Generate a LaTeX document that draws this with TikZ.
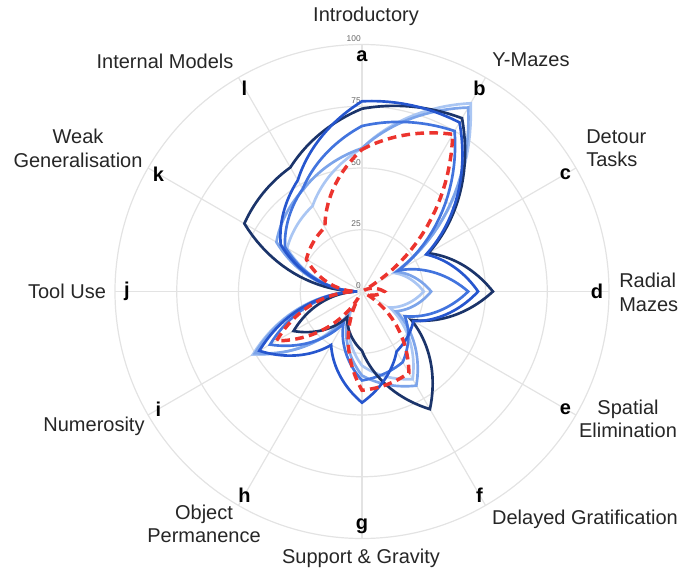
\documentclass[tikz,border=0pt]{standalone}
\usepackage{fontspec}
\setmainfont{Liberation Sans}
\definecolor{navyline}{RGB}{27,52,106}
\definecolor{royalline}{RGB}{38,86,206}
\definecolor{midline}{RGB}{66,116,222}
\definecolor{lightline}{RGB}{124,164,234}
\definecolor{paleline}{RGB}{170,198,243}
\definecolor{redline}{RGB}{236,52,46}
\def\ringscale{2.47}
\newcommand{\petals}[2]{%
  \def\vals{#2}%
  \draw[#1] (90:{\ringscale*\vals[0]})
    \foreach \i [evaluate=\i as \j using int(\i+1)] in {0,...,10}{
      -- plot[variable=\s, samples at={1,...,20}]
        ({90-30*(\i+\s/20)}:{\ringscale*(\vals[\i]+(\vals[\j]-\vals[\i])*\s/20)})
    }
    -- plot[variable=\s, samples at={1,...,19}]
        ({-240-30*\s/20}:{\ringscale*(\vals[11]+(\vals[0]-\vals[11])*\s/20)})
    -- cycle;
}
\begin{document}
\begin{tikzpicture}[x=0.75pt,y=0.75pt,
    gridline/.style={gray!22,line width=0.9pt},
    ticklabel/.style={font=\fontsize{6.3}{7}\selectfont,text=black!60,inner sep=0pt,anchor=south east},
    axislabel/.style={font=\fontsize{15}{17.5}\selectfont,text=black!85,align=center,inner sep=0pt},
    letter/.style={font=\fontsize{15}{17}\selectfont\bfseries,inner sep=0pt},
    series/.style={line width=2pt,line join=miter}]
  \useasboundingbox (-362,-279.5) rectangle (318,291.5);

  \foreach \r in {25,50,75,100}
    \draw[gridline] (0,0) circle ({\ringscale*\r});
  \foreach \t in {0,30,...,330}
    \draw[gridline] (0,0) -- (\t:{\ringscale*100});
  \foreach \v in {0,25,50,75,100}
    \node[ticklabel] (tick\v) at (-1,{\ringscale*\v+2.5}) {\v};

  \foreach \lab [count=\k from 0] in {a,b,c,d,e,f,g,h,i,j,k,l}
    \node[letter] (\lab) at ({90-30*\k}:235) {\lab};

  \node[axislabel] (intro) at (4,275.5) {Introductory};
  \node[axislabel] (ymaze) at (169,231.5) {Y-Mazes};
  \node[axislabel,align=left,anchor=west] (detour) at (224,143) {Detour\\Tasks};
  \node[axislabel,align=left,anchor=west] (radial) at (257,-1) {Radial\\Mazes};
  \node[axislabel] (spatial) at (266,-127.5) {Spatial\\Elimination};
  \node[axislabel] (delay) at (223,-228) {Delayed Gratification};
  \node[axislabel] (support) at (-1,-266.5) {Support \& Gravity};
  \node[axislabel] (object) at (-158,-232.5) {Object\\Permanence};
  \node[axislabel] (numer) at (-268,-135) {Numerosity};
  \node[axislabel] (tool) at (-295,0) {Tool Use};
  \node[axislabel] (weak) at (-284,143) {Weak\\Generalisation};
  \node[axislabel] (internal) at (-197,230.5) {Internal Models};

  \petals{series,paleline}{{58,88,15,25,13,41,30,9,51,2,35,40}}
  \petals{series,lightline}{{58,86,16,28,16,44,34,11,50,2,40,47.6}}
  \petals{series,midline}{{67,75,17,43,20,33,36,15,43,2,36,48}}
  \petals{series,navyline}{{74,81,31,53,23,55,24,12,32,2,55,58}}
  \petals{series,royalline}{{77,79,30,47,24,28,45,25,48,2,38,52}}
  \petals{series,redline,line width=2.6pt,dash pattern=on 6.5pt off 4pt}{{57.5,73.5,1,9,2,38,40,3,40,3,26,30}}
\end{tikzpicture}
\end{document}
